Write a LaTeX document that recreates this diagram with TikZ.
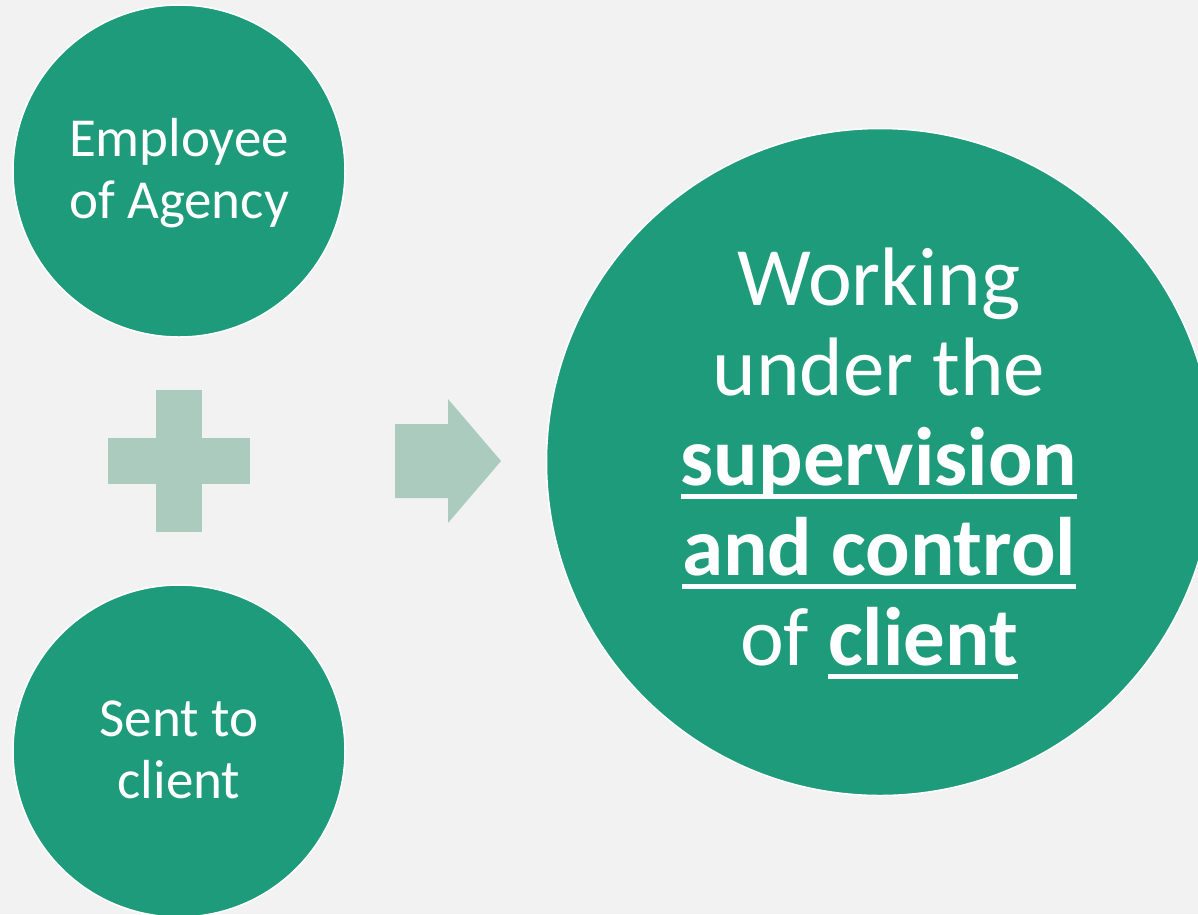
\documentclass[tikz,border=0pt]{standalone}
\usepackage{fontspec}
\setmainfont{Carlito}
\definecolor{grn}{RGB}{30,155,122}
\definecolor{pale}{RGB}{171,203,191}
\definecolor{bgc}{RGB}{242,242,242}
\newsavebox\myulbox
\newcommand\myul[1]{\sbox\myulbox{#1}\rlap{\raisebox{-13.5pt}{\color{white}\rule{\wd\myulbox}{5pt}}}\usebox\myulbox}
\tikzset{
  circ/.style={circle, fill=grn, draw=white, line width=1.5pt, inner sep=0pt},
  smalltxt/.style={text=white, align=center, inner sep=0pt, font=\fontsize{55}{62}\selectfont},
  bigtxt/.style={text=white, align=center, inner sep=0pt, font=\fontsize{83}{90}\selectfont},
  shapefill/.style={fill=pale}
}
\begin{document}
\begin{tikzpicture}[x=1pt,y=-1pt]
\fill[bgc] (0,0) rectangle (1198,914);
\useasboundingbox (0,0) rectangle (1198,914);
\begin{scope}
\clip (0,0) rectangle (1198,914);
\node[circ, minimum size=332pt] (emp) at (179,171) {};
\node[circ, minimum size=332pt] (sent) at (179,751) {};
\node[circ, minimum size=667pt] (work) at (880,462) {};
\node[smalltxt, anchor=base] (emptxt) at (179,218) {Employee\\of Agency};
\node[smalltxt, anchor=base] (senttxt) at (179,798) {Sent to\\client};
\node[bigtxt, anchor=base] (worktxt) at (879,665) {Working\\under the\\\myul{\bfseries supervision}\\\myul{\bfseries and control}\\of \myul{\bfseries client}};
\fill[shapefill] (156,390) rectangle (202,532);
\fill[shapefill] (108,438) rectangle (250,484);
\fill[shapefill] (395,424) -- (448,424) -- (448,399) -- (501,461) -- (448,523) -- (448,498) -- (395,498) -- cycle;
\end{scope}
\end{tikzpicture}
\end{document}
